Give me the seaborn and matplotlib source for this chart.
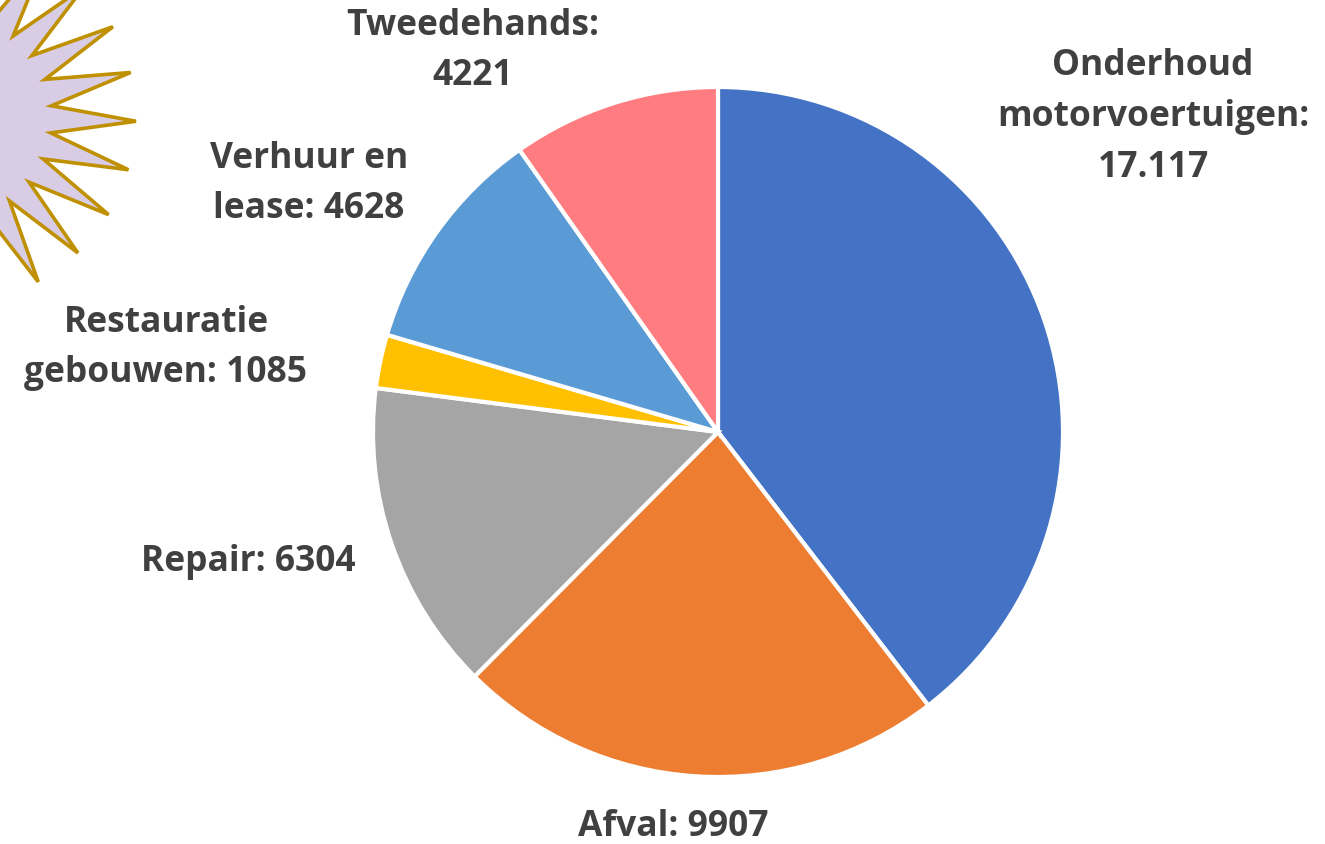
import numpy as np
import matplotlib
matplotlib.use("Agg")
import matplotlib.pyplot as plt
import seaborn as sns
from matplotlib.patches import Polygon

sns.set_theme(style="white")
plt.rcParams['font.family'] = ['Open Sans', 'DejaVu Sans']

# data, clockwise from the top
categories = ['Onderhoud motorvoertuigen', 'Afval', 'Repair',
              'Restauratie gebouwen', 'Verhuur en lease', 'Tweedehands']
values = [17117, 9907, 6304, 1085, 4628, 4221]
value_labels = ['17.117', '9907', '6304', '1085', '4628', '4221']
label_text = ['Onderhoud\nmotorvoertuigen:\n', 'Afval: ', 'Repair: ',
              'Restauratie\ngebouwen: ', 'Verhuur en\nlease: ', 'Tweedehands:\n']
colors = ['#4472C4', '#ED7D31', '#A5A5A5', '#FFC000', '#5B9BD5', '#FF7C80']

# label placement (pixels, figure coords with y from top)
label_pos = [(1153, 117), (673, 827), (248, 562), (166, 348), (309, 184), (473, 51)]

W, H = 1325, 845
fig = plt.figure(figsize=(W / 100, H / 100), dpi=100)
ax = fig.add_axes([0, 0, 1, 1])

# decorative starburst in the top-left corner
n_pts = 24
ang = np.deg2rad(np.arange(2 * n_pts) * (360 / (2 * n_pts)) + 1.3)
rad = np.where(np.arange(2 * n_pts) % 2 == 0, 188, 104)
sx = -52 + rad * np.cos(ang)
sy = H - (118 + rad * np.sin(ang))
star = Polygon(np.column_stack([sx, sy]), closed=True, facecolor='#D9CDE6',
               edgecolor='#BF9000', linewidth=2.6, zorder=1)
ax.add_patch(star)

ax.pie(values, colors=colors, startangle=90, counterclock=False,
       center=(718, H - 433), radius=345,
       wedgeprops=dict(edgecolor='white', linewidth=3))

for txt, val, (px, py) in zip(label_text, value_labels, label_pos):
    ax.text(px, H - py, txt + val, ha='center', va='center', fontsize=25.5,
            fontweight='bold', color='#404040', linespacing=1.55)

ax.set_xlim(0, W)
ax.set_ylim(0, H)
ax.set_aspect('equal')
ax.axis('off')

plt.savefig('out.png', dpi=100)
plt.close()
